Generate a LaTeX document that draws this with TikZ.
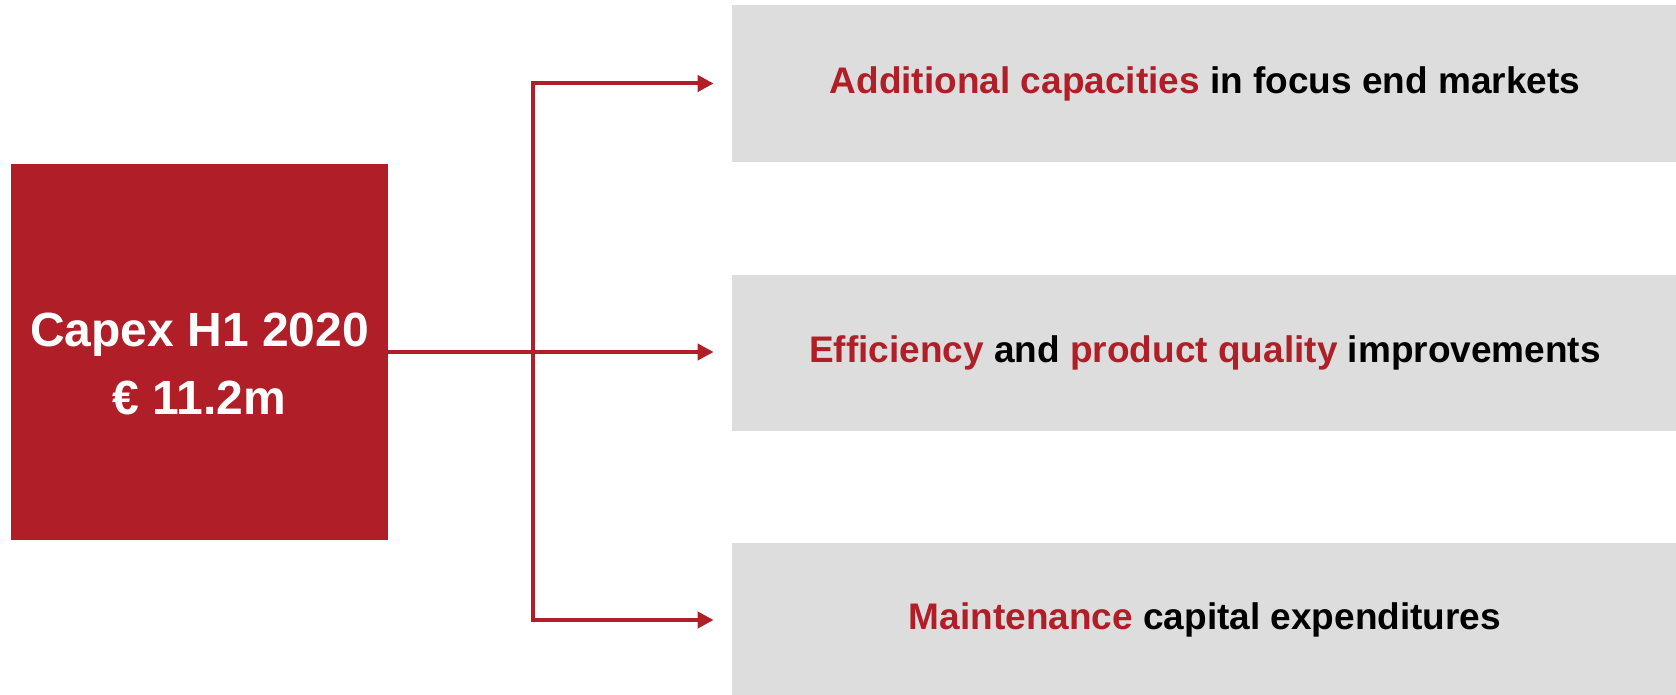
\documentclass[tikz,border=0pt]{standalone}
\usepackage{xcolor}
\usepackage{fontspec}
\setmainfont{Liberation Sans}
\usetikzlibrary{positioning,calc,arrows.meta}

\definecolor{capred}{HTML}{B01F27}
\definecolor{boxgray}{HTML}{DDDDDD}

\begin{document}
\begin{tikzpicture}[x=0.5pt,y=-0.5pt,
    redbox/.style={fill=capred, minimum width=188.5pt, minimum height=188pt, inner sep=0pt},
    graybox/.style={fill=boxgray, minimum width=473pt, inner sep=0pt,
        font=\fontsize{18.5}{22}\selectfont\bfseries},
    link/.style={draw=capred, line width=2pt, -{Triangle[length=8pt,width=8pt]}, shorten >=9pt}]
    \useasboundingbox (0,0) rectangle (1676,695);

    % capex box
    \node[redbox] (capex) at (199.5,352) {};
    \node[text=white, align=center, font=\fontsize{24}{34}\selectfont\bfseries] (capextxt) at (199.5,364)
        {Capex H1 2020\\ \texteuro{} 11.2m};

    % the three uses
    \node[graybox, minimum height=78.5pt] (use1) at (1205,83.5)
        {\textcolor{capred}{Additional capacities} in focus end markets};
    \node[graybox, minimum height=78pt] (use2) at (1205,353)
        {\textcolor{capred}{Efficiency} and \textcolor{capred}{product quality} improvements};
    \node[graybox, minimum height=77pt] (use3) at (1205,620)
        {\textcolor{capred}{Maintenance} capital expenditures};

    % branching arrows
    \coordinate (split) at (533,352);
    \draw[link] (capex.east) -- (capex.east -| use2.west);
    \draw[link] (split) -- (split |- use1.west) -- (use1.west);
    \draw[link] (split) -- (split |- use3.west) -- (use3.west);
\end{tikzpicture}
\end{document}
